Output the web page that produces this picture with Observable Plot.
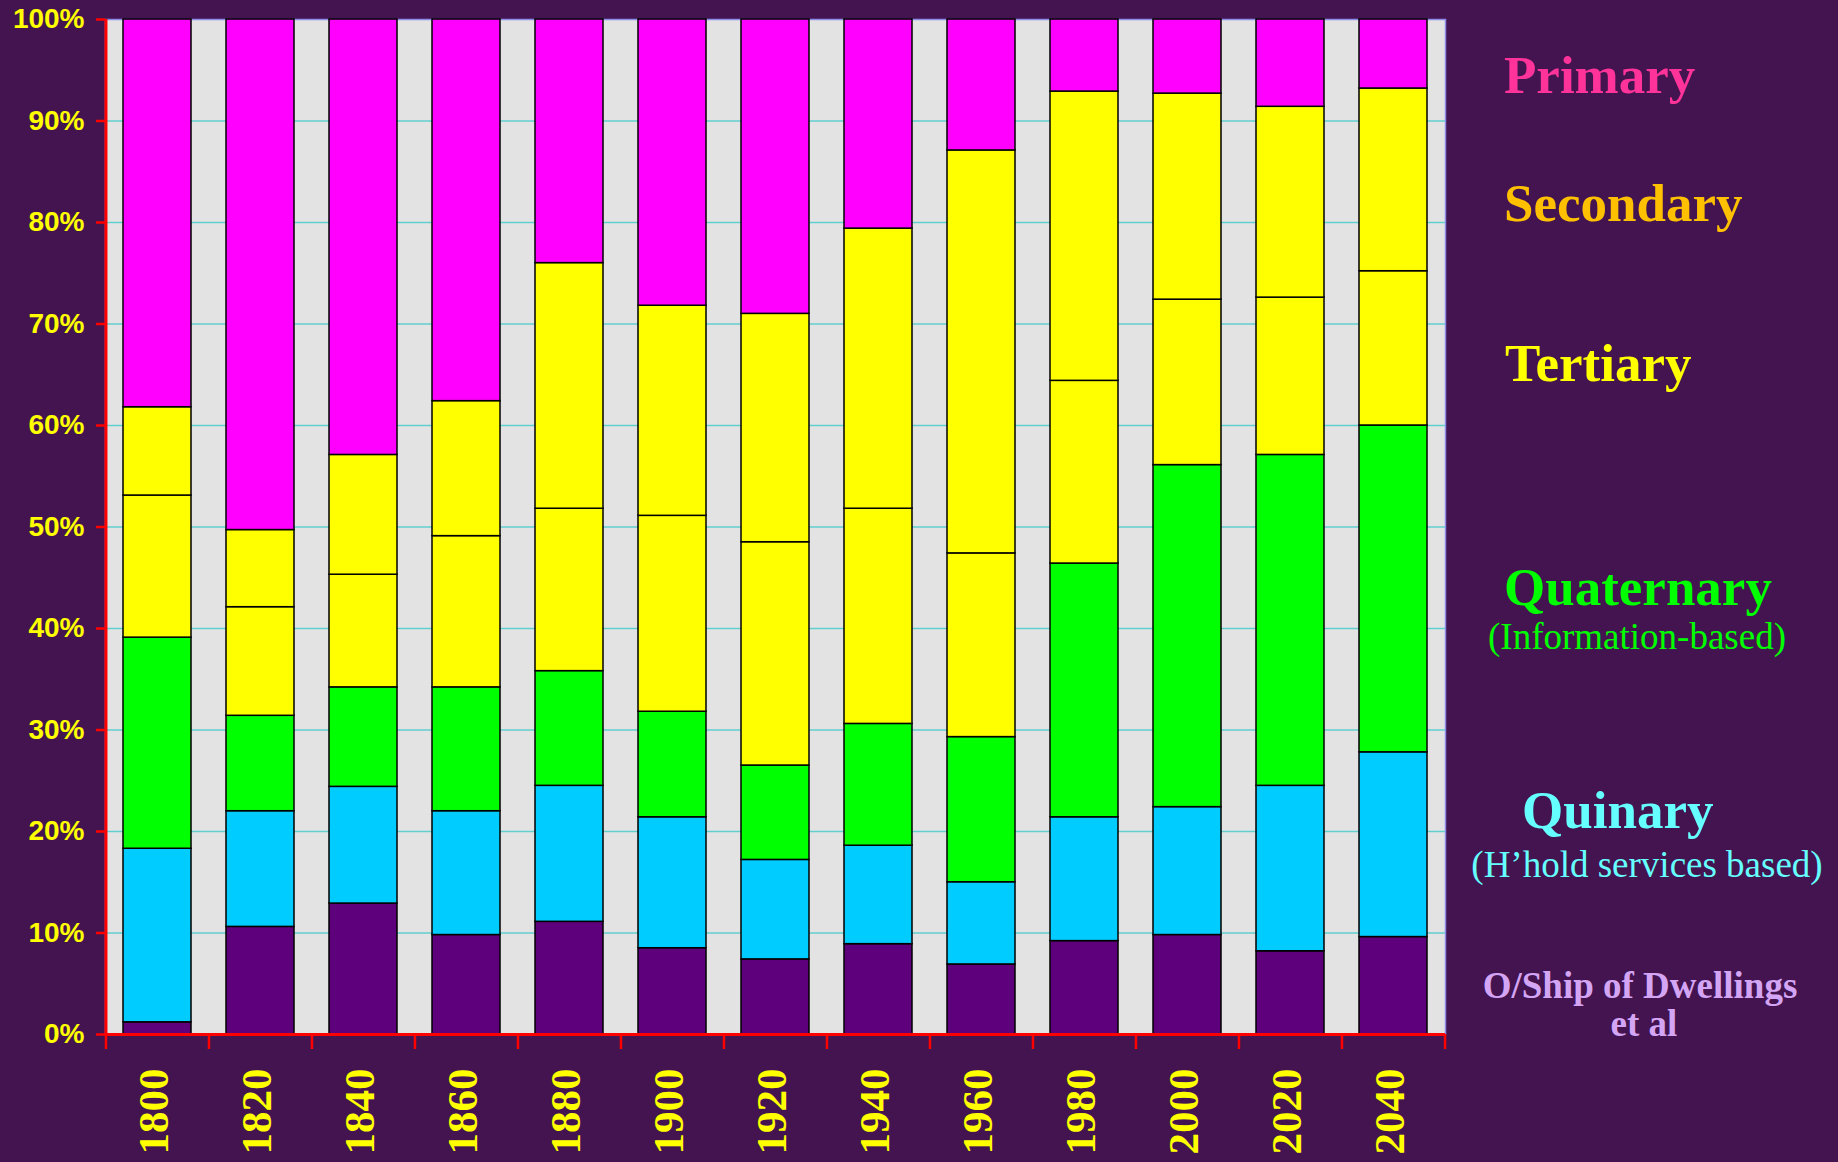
<!DOCTYPE html>
<html>
<head>
<meta charset="utf-8">
<script src="https://cdn.jsdelivr.net/npm/d3@7"></script>
<script src="https://cdn.jsdelivr.net/npm/@observablehq/plot@0.6"></script>
<style>
  html, body { margin: 0; padding: 0; background: #43144f; }
  #chart { width: 1838px; height: 1162px; }
  #chart svg { display: block; }
</style>
</head>
<body>
<div id="chart"></div>
<script>
// Share of employment by sector, percent of total, 1800–2040
const years = ["1800", "1820", "1840", "1860", "1880", "1900", "1920", "1940", "1960", "1980", "2000", "2020", "2040"];

// Stacked from the bottom up
const sectors = ["O/Ship of Dwellings et al", "Quinary", "Quaternary", "Tertiary", "Secondary", "Primary"];
const sectorColors = ["#5e007c", "#00ccff", "#00ff00", "#ffff00", "#ffff00", "#ff00ff"];

const ownership  = [1.2, 10.6, 12.9, 9.8, 11.1, 8.5, 7.4, 8.9, 6.9, 9.2, 9.8, 8.2, 9.6];
const quinary    = [17.1, 11.4, 11.5, 12.2, 13.4, 12.9, 9.8, 9.7, 8.1, 12.2, 12.6, 16.3, 18.2];
const quaternary = [20.8, 9.4, 9.8, 12.2, 11.3, 10.4, 9.3, 12.0, 14.3, 25.0, 33.7, 32.6, 32.2];
const tertiary   = [14.0, 10.7, 11.1, 14.9, 16.0, 19.3, 22.0, 21.2, 18.1, 18.0, 16.3, 15.5, 15.2];
const secondary  = [8.7, 7.6, 11.8, 13.3, 24.2, 20.7, 22.5, 27.6, 39.7, 28.5, 20.3, 18.8, 18.0];
const primary    = [38.2, 50.3, 42.9, 37.6, 24.0, 28.2, 29.0, 20.6, 12.9, 7.1, 7.3, 8.6, 6.8];

const yTicks = [0, 10, 20, 30, 40, 50, 60, 70, 80, 90, 100];
const gridTicks = [10, 20, 30, 40, 50, 60, 70, 80, 90];

const series = [ownership, quinary, quaternary, tertiary, secondary, primary];
const rows = years.flatMap((year, i) =>
  sectors.map((sector, j) => ({year, sector, value: series[j][i]}))
);

// Frame geometry
const W = 1838, H = 1162;
const M = {top: 19, right: 393, bottom: 128, left: 105};
const step = (W - M.left - M.right) / years.length;
const pad = 0.34;

const red = "#ff0000";
const labelYellow = "#ffff00";

const chart = Plot.plot({
  width: W,
  height: H,
  marginTop: M.top,
  marginRight: M.right,
  marginBottom: M.bottom,
  marginLeft: M.left,
  style: {background: "transparent", overflow: "visible"},
  x: {domain: years, paddingInner: pad, paddingOuter: pad / 2, axis: null, label: null},
  y: {domain: [0, 100], axis: null, label: null},
  color: {domain: sectors, range: sectorColors},
  marks: [
    Plot.frame({fill: "#e3e3e3", stroke: "#8c8ce8", strokeWidth: 1.5}),
    Plot.gridY(gridTicks, {stroke: "#62cfcf", strokeOpacity: 1, strokeWidth: 1.5}),
    Plot.barY(rows, {x: "year", y: "value", fill: "sector", stroke: "#000", strokeWidth: 1.5}),
    Plot.ruleY([0], {stroke: red, strokeWidth: 3}),
    Plot.ruleX([years[0]], {dx: -step / 2, stroke: red, strokeWidth: 3}),
    Plot.axisY(yTicks, {
      tickSize: 9, tickPadding: 12, stroke: red, strokeWidth: 2.5,
      fill: labelYellow, fontSize: 28, fontWeight: "bold", fontFamily: "Liberation Sans, Arial, sans-serif",
      tickFormat: d => `${d}%`, label: null
    }),
    Plot.axisX(years, {tickSize: 15, dx: -step / 2, stroke: red, strokeWidth: 2.5, fill: "none", label: null}),
    Plot.axisX([years[years.length - 1]], {tickSize: 15, dx: step / 2, stroke: red, strokeWidth: 2.5, fill: "none", label: null}),
    Plot.axisX(years, {
      tickSize: 0, tickPadding: 34, tickRotate: -90, dx: -3,
      fill: labelYellow, fontSize: 43, fontWeight: "bold", fontFamily: "Liberation Serif, Times New Roman, serif",
      label: null
    })
  ]
});

document.getElementById("chart").appendChild(chart);

// Sector key on the right
const serif = "Liberation Serif, Times New Roman, serif";
const legendEntries = [
  {text: "Primary", x: 1504, y: 93, anchor: "start", size: 53, weight: "bold", color: "#ff3399"},
  {text: "Secondary", x: 1504, y: 221, anchor: "start", size: 53, weight: "bold", color: "#ffc000"},
  {text: "Tertiary", x: 1505, y: 381, anchor: "start", size: 53, weight: "bold", color: "#ffff00"},
  {text: "Quaternary", x: 1504, y: 605, anchor: "start", size: 53, weight: "bold", color: "#00ff00"},
  {text: "(Information-based)", x: 1637, y: 649, anchor: "middle", size: 37, weight: "normal", color: "#00ff00"},
  {text: "Quinary", x: 1522, y: 828, anchor: "start", size: 53, weight: "bold", color: "#66ffff"},
  {text: "(H\u2019hold services based)", x: 1647, y: 877, anchor: "middle", size: 37, weight: "normal", color: "#66ffff"},
  {text: "O/Ship of Dwellings", x: 1640, y: 998, anchor: "middle", size: 37, weight: "bold", color: "#d4a5f5"},
  {text: "et al", x: 1644, y: 1036, anchor: "middle", size: 37, weight: "bold", color: "#d4a5f5"}
];

d3.select(chart).append("g")
  .attr("class", "sector-key")
  .selectAll("text")
  .data(legendEntries)
  .join("text")
  .attr("x", d => d.x)
  .attr("y", d => d.y)
  .attr("text-anchor", d => d.anchor)
  .attr("font-family", serif)
  .attr("font-size", d => d.size)
  .attr("font-weight", d => d.weight)
  .attr("fill", d => d.color)
  .text(d => d.text);
</script>
</body>
</html>
